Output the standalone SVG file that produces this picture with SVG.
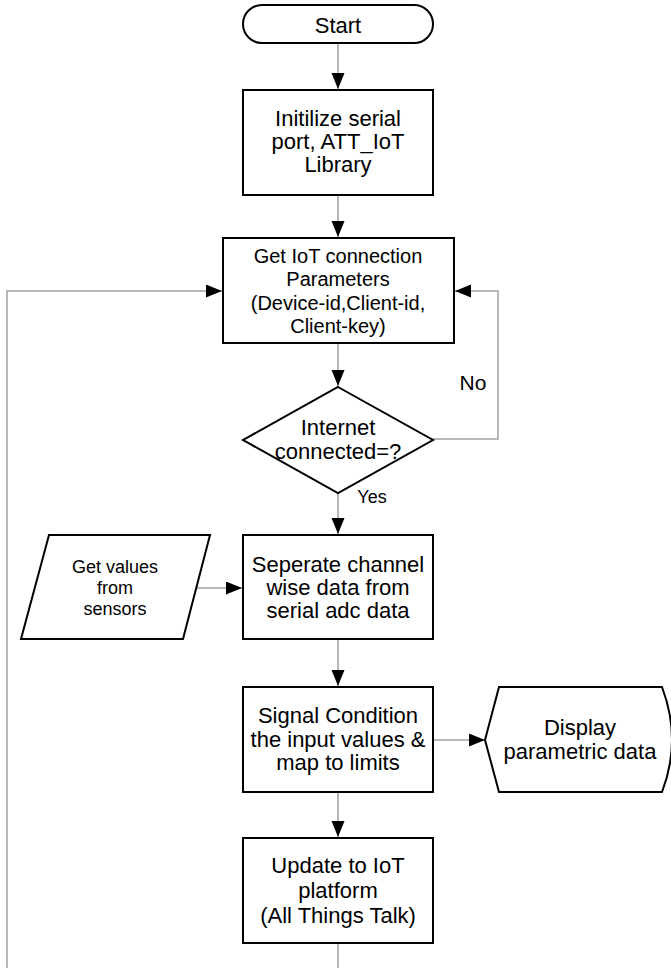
<svg xmlns="http://www.w3.org/2000/svg" width="671" height="968" viewBox="0 0 671 968">
<style>
.n{fill:#fff;stroke:#000;stroke-width:2}
.c{fill:none;stroke:#a0a0a0;stroke-width:1.5}
text{font-family:"Liberation Sans",Arial,sans-serif;font-size:22px;fill:#000;text-anchor:middle}
.s20{font-size:20px}
.s18{font-size:18px}
</style>
<defs>
<marker id="ah" markerUnits="userSpaceOnUse" markerWidth="17" markerHeight="14" refX="16" refY="6.5" orient="auto">
<path d="M0,0 L16,6.5 L0,13 z" fill="#000"/>
</marker>
</defs>
<rect width="671" height="968" fill="#fff"/>
<g id="connectors">
<line class="c" x1="338" y1="43" x2="338" y2="89" marker-end="url(#ah)"/>
<line class="c" x1="338" y1="195" x2="338" y2="237" marker-end="url(#ah)"/>
<line class="c" x1="338" y1="343" x2="338" y2="386" marker-end="url(#ah)"/>
<polyline class="c" points="433,439 498,439 498,291 455,291" marker-end="url(#ah)"/>
<line class="c" x1="338" y1="493" x2="338" y2="534" marker-end="url(#ah)"/>
<line class="c" x1="197" y1="588" x2="242" y2="588" marker-end="url(#ah)"/>
<line class="c" x1="338" y1="639" x2="338" y2="686" marker-end="url(#ah)"/>
<line class="c" x1="433" y1="740" x2="485" y2="740" marker-end="url(#ah)"/>
<line class="c" x1="338" y1="792" x2="338" y2="837" marker-end="url(#ah)"/>
<polyline class="c" points="338,943 338,968"/>
<polyline class="c" points="7,968 7,291 222,291" marker-end="url(#ah)"/>
<text x="473" y="390" style="font-size:21px">No</text>
<text x="372" y="503" class="s18">Yes</text>
</g>
<g id="start">
<rect class="n" x="243" y="5" width="190" height="38" rx="19"/>
<text x="338" y="33">Start</text>
</g>
<g id="init">
<rect class="n" x="243" y="90" width="190" height="105"/>
<text x="338" y="126">Initilize serial</text>
<text x="338" y="149">port, ATT_IoT</text>
<text x="338" y="172">Library</text>
</g>
<g id="getparams">
<rect class="n" x="223" y="238" width="231" height="105"/>
<text x="338" y="263" class="s20">Get IoT connection</text>
<text x="338" y="286" class="s20">Parameters</text>
<text x="338" y="310" class="s20">(Device-id,Client-id,</text>
<text x="338" y="333" class="s20">Client-key)</text>
</g>
<g id="decision">
<polygon class="n" points="338,387 433,440 338,493 243,440"/>
<text x="338" y="435">Internet</text>
<text x="338" y="459">connected=?</text>
</g>
<g id="sensors">
<polygon class="n" points="49,535 210,535 183,639 21,639"/>
<text x="115" y="573" class="s18">Get values</text>
<text x="115" y="594" class="s18">from</text>
<text x="115" y="615" class="s18">sensors</text>
</g>
<g id="separate">
<rect class="n" x="243" y="535" width="190" height="104"/>
<text x="338" y="572">Seperate channel</text>
<text x="338" y="595">wise data from</text>
<text x="338" y="618">serial adc data</text>
</g>
<g id="signal">
<rect class="n" x="243" y="687" width="190" height="105"/>
<text x="338" y="723">Signal Condition</text>
<text x="338" y="747">the input values &amp;</text>
<text x="338" y="770">map to limits</text>
</g>
<g id="display">
<path class="n" d="M485,740 L499,687 L662,687 Q682,740 662,792 L499,792 Z"/>
<text x="580" y="735">Display</text>
<text x="580" y="759">parametric data</text>
</g>
<g id="update">
<rect class="n" x="243" y="838" width="190" height="105"/>
<text x="338" y="873">Update to IoT</text>
<text x="338" y="898">platform</text>
<text x="338" y="923">(All Things Talk)</text>
</g>
</svg>
